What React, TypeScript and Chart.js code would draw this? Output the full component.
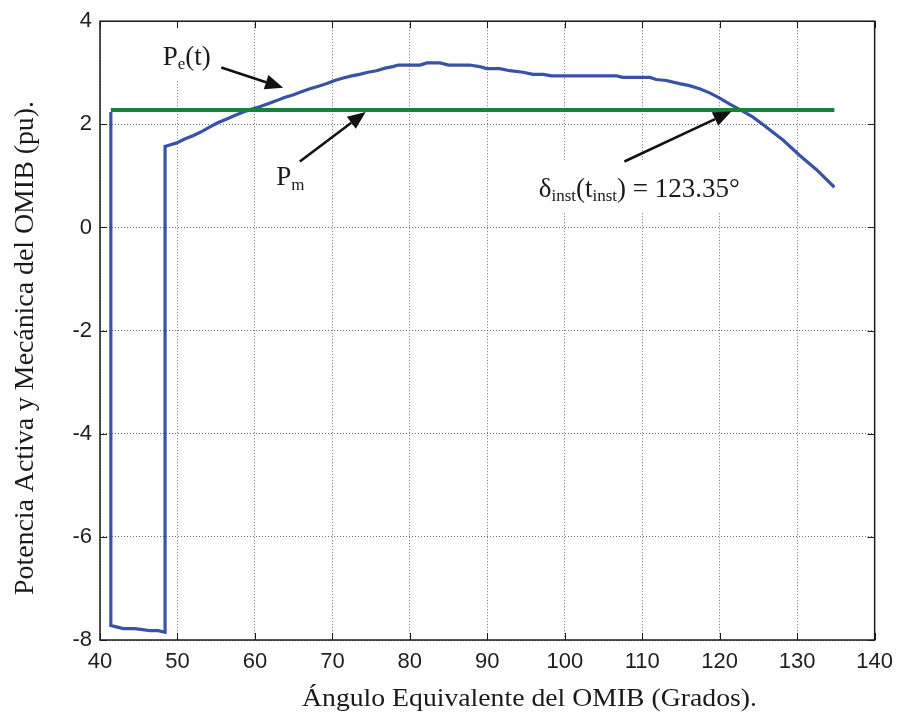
import React, { useEffect, useRef } from "react";
import { Chart, registerables } from "chart.js";

Chart.register(...registerables);

// ---- Data ----
const peAngle = [
  41.4, 41.4, 42.0, 43.0, 44.5, 45.5, 46.5, 47.5, 48.4, 48.4, 49.0, 49.9, 51.0, 52.0, 53.0,
  54.2, 55.2, 56.3, 57.4, 58.5, 59.5, 60.6, 61.7, 62.8, 63.8, 64.9, 66.0, 67.1, 68.2, 69.3,
  70.3, 71.4, 72.5, 73.5, 74.6, 75.7, 76.8, 77.8, 78.5, 80.0, 81.3, 82.2, 83.9, 85.0, 87.7,
  89.0, 89.9, 91.6, 92.9, 94.6, 95.9, 97.2, 98.3, 106.7, 107.5, 111.0, 111.8, 113.1, 114.8,
  116.1, 117.4, 118.7, 120.0, 121.3, 122.8, 124.3, 126.0, 128.2, 130.3, 132.5, 134.8,
];
const pePower = [
  2.24, -7.72, -7.74, -7.78, -7.78, -7.8, -7.82, -7.82, -7.85, 1.57, 1.6, 1.64, 1.72, 1.78, 1.85,
  1.95, 2.03, 2.1, 2.17, 2.24, 2.29, 2.34, 2.4, 2.46, 2.52, 2.57, 2.63, 2.69, 2.74, 2.79,
  2.85, 2.9, 2.94, 2.97, 3.01, 3.04, 3.09, 3.12, 3.15, 3.15, 3.15, 3.19, 3.19, 3.15, 3.15,
  3.12, 3.08, 3.08, 3.04, 3.01, 2.97, 2.97, 2.94, 2.94, 2.91, 2.91, 2.87, 2.85, 2.79,
  2.75, 2.69, 2.61, 2.51, 2.39, 2.27, 2.14, 1.95, 1.69, 1.4, 1.12, 0.78,
];
const pmAngle = [41.4, 134.8];
const pmPower = [2.28, 2.28];

const xMin = 40;
const xMax = 140;
const xStep = 10;
const yMin = -8;
const yMax = 4;
const yStep = 2;

const xTitle = "Ángulo Equivalente del OMIB (Grados).";
const yTitle = "Potencia Activa y Mecánica del OMIB (pu).";

// annotation texts (segments: [text, isSubscript])
const peLabel: [string, boolean][] = [["P", false], ["e", true], ["(t)", false]];
const pmLabel: [string, boolean][] = [["P", false], ["m", true]];
const deltaLabel: [string, boolean][] = [
  ["δ", false], ["inst", true], ["(t", false], ["inst", true], [") = 123.35°", false],
];

// annotation anchors in data units
const peLabelAt = [48.1, 3.15];
const pmLabelAt = [62.74, 0.83];
const deltaLabelAt = [96.63, 0.59];
const arrowPe = [55.66, 3.1, 63.65, 2.71];
const arrowPm = [65.8, 1.28, 74.3, 2.24];
const arrowDelta = [107.7, 1.28, 121.5, 2.25];

const SERIF = "'Liberation Serif', 'Times New Roman', serif";
const SANS = "'Liberation Sans', Arial, sans-serif";

function richWidth(ctx: CanvasRenderingContext2D, segs: [string, boolean][], size: number, sub: number) {
  let w = 0;
  for (const [t, s] of segs) {
    ctx.font = `${s ? sub : size}px ${SERIF}`;
    w += ctx.measureText(t).width;
  }
  return w;
}

function drawRich(ctx: CanvasRenderingContext2D, segs: [string, boolean][], x: number, y: number, size: number, sub: number, drop: number) {
  let cx = x;
  ctx.textAlign = "left";
  ctx.textBaseline = "alphabetic";
  for (const [t, s] of segs) {
    ctx.font = `${s ? sub : size}px ${SERIF}`;
    ctx.fillText(t, cx, s ? y + drop : y);
    cx += ctx.measureText(t).width;
  }
}

function drawArrow(ctx: CanvasRenderingContext2D, x1: number, y1: number, x2: number, y2: number) {
  const ang = Math.atan2(y2 - y1, x2 - x1);
  const L = 18;
  const W = 7.5;
  const bx = x2 - L * Math.cos(ang);
  const by = y2 - L * Math.sin(ang);
  ctx.beginPath();
  ctx.moveTo(x1, y1);
  ctx.lineTo(bx, by);
  ctx.stroke();
  ctx.beginPath();
  ctx.moveTo(x2, y2);
  ctx.lineTo(bx + W * Math.sin(ang), by - W * Math.cos(ang));
  ctx.lineTo(bx - W * Math.sin(ang), by + W * Math.cos(ang));
  ctx.closePath();
  ctx.fill();
}

const ANN = 27;
const SUB = 17;
const DROP = 4;

const decorPlugin = {
  id: "decor",
  beforeDatasetsDraw(chart: any) {
    const ctx: CanvasRenderingContext2D = chart.ctx;
    const xs = chart.scales.x;
    const ys = chart.scales.y;
    ctx.save();
    ctx.fillStyle = "#ffffff";
    for (const [segs, at] of [[peLabel, peLabelAt], [deltaLabel, deltaLabelAt]] as any) {
      const x = xs.getPixelForValue(at[0]);
      const y = ys.getPixelForValue(at[1]);
      const w = richWidth(ctx, segs, ANN, SUB);
      ctx.fillRect(x - 10, y - 37, w + 20, 53);
    }
    ctx.restore();
  },
  afterDraw(chart: any) {
    const ctx: CanvasRenderingContext2D = chart.ctx;
    const { left, right, top, bottom } = chart.chartArea;
    const xs = chart.scales.x;
    const ys = chart.scales.y;
    ctx.save();
    // inward ticks
    ctx.strokeStyle = "#1a1a1a";
    ctx.lineWidth = 1;
    for (let v = xMin; v <= xMax + 1e-9; v += xStep) {
      const p = Math.round(xs.getPixelForValue(v)) + 0.5;
      ctx.beginPath();
      ctx.moveTo(p, bottom);
      ctx.lineTo(p, bottom - 7);
      ctx.moveTo(p, top);
      ctx.lineTo(p, top + 7);
      ctx.stroke();
    }
    for (let v = yMin; v <= yMax + 1e-9; v += yStep) {
      const p = Math.round(ys.getPixelForValue(v)) + 0.5;
      ctx.beginPath();
      ctx.moveTo(left, p);
      ctx.lineTo(left + 7, p);
      ctx.moveTo(right, p);
      ctx.lineTo(right - 7, p);
      ctx.stroke();
    }
    // box
    ctx.lineWidth = 1.5;
    ctx.strokeRect(left, top, right - left, bottom - top);

    // arrows
    ctx.strokeStyle = "#111";
    ctx.fillStyle = "#111";
    ctx.lineWidth = 2.6;
    for (const a of [arrowPe, arrowPm, arrowDelta]) {
      drawArrow(
        ctx,
        xs.getPixelForValue(a[0]),
        ys.getPixelForValue(a[1]),
        xs.getPixelForValue(a[2]),
        ys.getPixelForValue(a[3])
      );
    }

    // annotation text
    ctx.fillStyle = "#1a1a1a";
    drawRich(ctx, peLabel, xs.getPixelForValue(peLabelAt[0]), ys.getPixelForValue(peLabelAt[1]), ANN, SUB, DROP);
    drawRich(ctx, pmLabel, xs.getPixelForValue(pmLabelAt[0]), ys.getPixelForValue(pmLabelAt[1]), ANN, SUB, DROP + 1);
    drawRich(ctx, deltaLabel, xs.getPixelForValue(deltaLabelAt[0]), ys.getPixelForValue(deltaLabelAt[1]), ANN, SUB, DROP);

    // x title
    ctx.font = `25px ${SERIF}`;
    ctx.textBaseline = "alphabetic";
    ctx.textAlign = "left";
    const xw = ctx.measureText(xTitle).width;
    const xsc = 455 / xw;
    ctx.save();
    ctx.translate(left + 202, bottom + 66);
    ctx.scale(xsc, 1);
    ctx.fillText(xTitle, 0, 0);
    ctx.restore();

    // y title
    ctx.font = `27px ${SERIF}`;
    const yw = ctx.measureText(yTitle).width;
    const ysc = 494 / yw;
    ctx.save();
    ctx.translate(33, 595);
    ctx.rotate(-Math.PI / 2);
    ctx.scale(ysc, 1);
    ctx.fillText(yTitle, 0, 0);
    ctx.restore();

    ctx.restore();
  },
};

export default function App() {
  const ref = useRef<HTMLCanvasElement | null>(null);

  useEffect(() => {
    if (!ref.current) return;
    const pe = peAngle.map((x, i) => ({ x, y: pePower[i] }));
    const pm = pmAngle.map((x, i) => ({ x, y: pmPower[i] }));
    const chart = new Chart(ref.current, {
      type: "line",
      data: {
        datasets: [
          {
            label: "Pm",
            data: pm,
            borderColor: "#17813b",
            borderWidth: 4,
            pointRadius: 0,
            tension: 0,
            fill: false,
          },
          {
            label: "Pe(t)",
            data: pe,
            borderColor: "#3853a6",
            borderWidth: 3.2,
            pointRadius: 0,
            tension: 0,
            fill: false,
          },
        ],
      },
      options: {
        animation: false,
        responsive: false,
        maintainAspectRatio: false,
        layout: { padding: { top: 15, right: 25, left: 0, bottom: 0 } },
        plugins: { legend: { display: false }, tooltip: { enabled: false } },
        scales: {
          x: {
            type: "linear",
            min: xMin,
            max: xMax,
            ticks: {
              stepSize: xStep,
              autoSkip: false,
              maxRotation: 0,
              padding: 9,
              color: "#1e1e1e",
              font: { family: SANS, size: 22 },
            },
            grid: { color: "#6f6f6f", lineWidth: 1, drawTicks: false },
            border: { display: false, dash: [1, 2] },
            afterFit: (s: any) => {
              s.height = 81;
            },
          },
          y: {
            type: "linear",
            min: yMin,
            max: yMax,
            ticks: {
              stepSize: yStep,
              autoSkip: false,
              padding: 8,
              color: "#1e1e1e",
              font: { family: SANS, size: 22 },
            },
            grid: { color: "#6f6f6f", lineWidth: 1, drawTicks: false },
            border: { display: false, dash: [1, 2] },
            afterFit: (s: any) => {
              s.width = 100;
            },
          },
        },
      },
      plugins: [decorPlugin],
    });
    return () => chart.destroy();
  }, []);

  return (
    <div style={{ position: "fixed", left: 0, top: 0, width: 902, height: 721, background: "#fff" }}>
      <canvas ref={ref} width={902} height={721} style={{ width: 902, height: 721, display: "block" }} />
    </div>
  );
}
